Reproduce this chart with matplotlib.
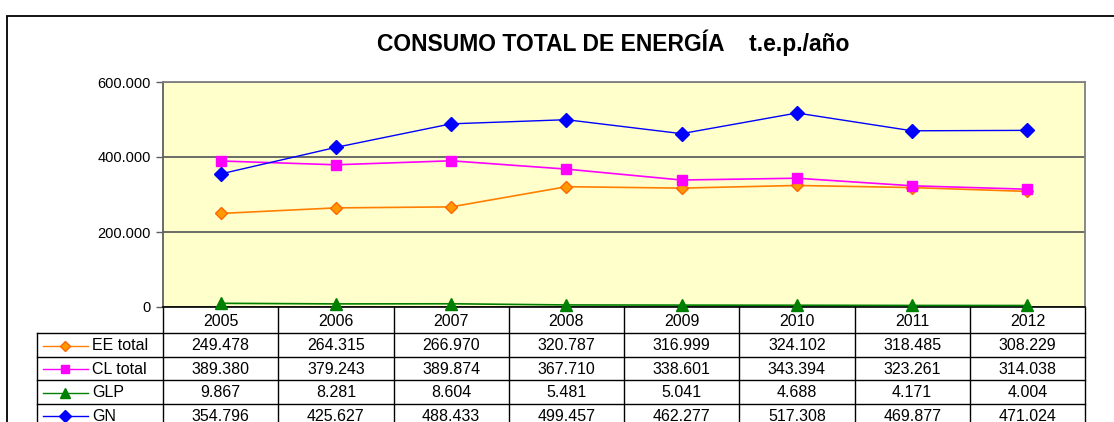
import matplotlib
matplotlib.use("Agg")
import matplotlib.pyplot as plt
from matplotlib.patches import Rectangle
from matplotlib.transforms import blended_transform_factory

plt.rcParams["font.family"] = ["Liberation Sans", "DejaVu Sans"]

years = ["2005", "2006", "2007", "2008", "2009", "2010", "2011", "2012"]
ee_total = [249478, 264315, 266970, 320787, 316999, 324102, 318485, 308229]
cl_total = [389380, 379243, 389874, 367710, 338601, 343394, 323261, 314038]
glp = [9867, 8281, 8604, 5481, 5041, 4688, 4171, 4004]
gn = [354796, 425627, 488433, 499457, 462277, 517308, 469877, 471024]

series = [
    ("EE total", ee_total, dict(color="#FF7F00", marker="D", markersize=6.5,
                                markerfacecolor="#FF9900", markeredgecolor="#FF6600", lw=1.2)),
    ("CL total", cl_total, dict(color="#FF00FF", marker="s", markersize=7,
                                markerfacecolor="#FF00FF", markeredgecolor="#FF00FF", lw=1.2)),
    ("GLP", glp, dict(color="#008000", marker="^", markersize=9,
                      markerfacecolor="#008000", markeredgecolor="#008000", lw=1.2)),
    ("GN", gn, dict(color="#0000FF", marker="D", markersize=7.5,
                    markerfacecolor="#0000FF", markeredgecolor="#0000FF", lw=1.0)),
]

W, H = 1114, 422
# plot area in pixels (x from left, y from top)
PL, PR, PT, PB = 163, 1085, 82, 307
LEG_L = 37
ROWS = [307, 333, 356.5, 380, 403.5, 427]
TABLE_FS = 11.5

fig = plt.figure(figsize=(W / 100, H / 100), dpi=100)
fig.patches.append(Rectangle((7 / W, -0.1), 1.2, 1 - 16 / H + 0.1, transform=fig.transFigure,
                             fill=False, edgecolor="black", lw=1.3))

ax = fig.add_axes([PL / W, 1 - PB / H, (PR - PL) / W, (PB - PT) / H])
ax.set_facecolor("#FFFFCC")
x = list(range(len(years)))
for name, vals, style in series:
    ax.plot(x, vals, clip_on=False, zorder=3, **style)

ax.set_xlim(-0.5, len(years) - 0.5)
ax.set_ylim(0, 600000)
ax.set_yticks([0, 200000, 400000, 600000])
ax.set_yticklabels(["0" if v == 0 else f"{v:,}".replace(",", ".") for v in ax.get_yticks()],
                   fontsize=10.5)
ax.tick_params(axis="y", length=5, width=1, color="#606060", pad=4)
ax.set_xticks([])
ax.grid(axis="y", color="#606060", lw=1.3)
ax.set_axisbelow(True)
for side in ["top", "right"]:
    ax.spines[side].set_color("#808080")
    ax.spines[side].set_linewidth(1.3)
ax.spines["left"].set_color("#606060")
ax.spines["left"].set_linewidth(1.3)
ax.spines["bottom"].set_color("black")
ax.spines["bottom"].set_linewidth(1.2)

fig.text(613 / W, 1 - 43 / H, "CONSUMO TOTAL DE ENERGÍA    t.e.p./año",
         ha="center", va="center", fontsize=16.5, fontweight="bold")

# data table below the plot, in pixel coordinates
tab = fig.add_axes([0, 0, 1, 1], zorder=-1)
tab.set_xlim(0, W)
tab.set_ylim(H, 0)
tab.axis("off")
cols = blended_transform_factory(ax.transData, tab.transData)

line_kw = dict(color="black", lw=1.0, clip_on=False)
for y in ROWS[1:]:
    tab.plot([LEG_L, PR], [y, y], **line_kw)
tab.plot([LEG_L, LEG_L], [ROWS[1], ROWS[-1]], **line_kw)
for i in range(len(years) + 1):
    tab.plot([i - 0.5, i - 0.5], [ROWS[0], ROWS[-1]], transform=cols, **line_kw)

for i, yr in enumerate(years):
    tab.text(i, (ROWS[0] + ROWS[1]) / 2 + 1, yr, transform=cols,
             ha="center", va="center", fontsize=TABLE_FS)

for r, (name, vals, style) in enumerate(series):
    yc = (ROWS[r + 1] + ROWS[r + 2]) / 2 + 1
    tab.plot([43, 88], [yc, yc], color=style["color"], lw=1.0)
    tab.plot([65], [yc], linestyle="none", marker=style["marker"],
             markersize=style["markersize"] * 0.85,
             markerfacecolor=style["markerfacecolor"],
             markeredgecolor=style["markeredgecolor"])
    tab.text(92, yc, name, ha="left", va="center", fontsize=TABLE_FS)
    for i, v in enumerate(vals):
        tab.text(i, yc, f"{v:,}".replace(",", "."), transform=cols,
                 ha="center", va="center", fontsize=TABLE_FS)

fig.savefig("out.png", dpi=100)
